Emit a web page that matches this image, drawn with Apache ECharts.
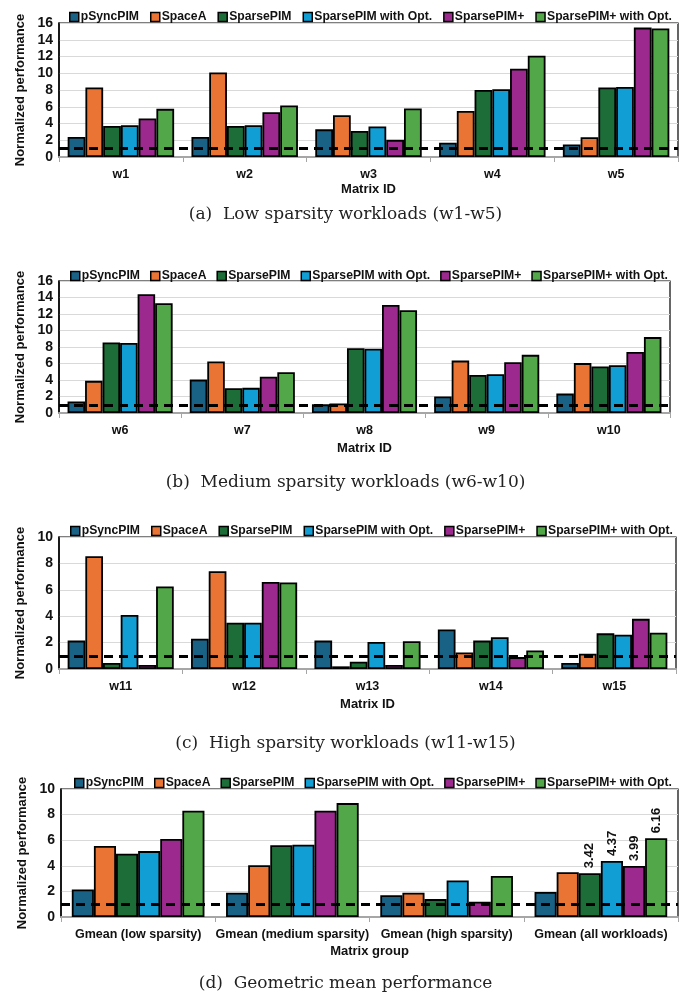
<!DOCTYPE html>
<html><head><meta charset="utf-8">
<script src="https://cdn.jsdelivr.net/npm/echarts@6/dist/echarts.min.js"></script>
<style>html,body{margin:0;padding:0;background:#fff}#c{width:691px;height:994px}</style>
</head><body><div id="c"></div><script>
const seriesNames = ['pSyncPIM','SpaceA','SparsePIM','SparsePIM with Opt.','SparsePIM+','SparsePIM+ with Opt.'];
const seriesColors = ['#1a6285','#ea7433','#1c6d37','#109ed4','#9c2a8e','#52a849'];

const lowCats = ['w1','w2','w3','w4','w5'];
const lowValues = [
  [2.4, 2.4, 3.3, 1.7, 1.5],
  [8.3, 10.1, 5.0, 5.5, 2.35],
  [3.7, 3.7, 3.1, 8.0, 8.3],
  [3.8, 3.8, 3.65, 8.1, 8.35],
  [4.6, 5.35, 2.05, 10.55, 15.45],
  [5.75, 6.15, 5.8, 12.1, 15.35]
];
const medCats = ['w6','w7','w8','w9','w10'];
const medValues = [
  [1.4, 4.05, 1.05, 2.0, 2.35],
  [3.9, 6.25, 1.15, 6.35, 6.05],
  [8.55, 3.0, 7.85, 4.6, 5.65],
  [8.5, 3.05, 7.8, 4.7, 5.8],
  [14.4, 4.4, 13.1, 6.15, 7.4],
  [13.3, 4.95, 12.45, 7.05, 9.2]
];
const highCats = ['w11','w12','w13','w14','w15'];
const highValues = [
  [2.15, 2.3, 2.15, 3.0, 0.45],
  [8.55, 7.4, 0.2, 1.25, 1.15],
  [0.45, 3.5, 0.55, 2.15, 2.7],
  [4.1, 3.5, 2.05, 2.4, 2.6],
  [0.3, 6.6, 0.3, 0.9, 3.8],
  [6.25, 6.55, 2.1, 1.4, 2.75]
];
const gmeanCats = ['Gmean (low sparsity)','Gmean (medium sparsity)','Gmean (high sparsity)','Gmean (all workloads)'];
const gmeanValues = [
  [2.15, 1.9, 1.7, 1.95],
  [5.55, 4.05, 1.9, 3.5],
  [4.95, 5.6, 1.4, 3.42],
  [5.15, 5.65, 2.85, 4.37],
  [6.1, 8.3, 1.2, 3.99],
  [8.3, 8.9, 3.2, 6.16]
];
const gmeanLabeled = [false, false, true, true, true, true]; // labels on "all workloads" group
const baseline = 1;
const yMaxes = [16, 16, 10, 10];
const xNames = ['Matrix ID','Matrix ID','Matrix ID','Matrix group'];
const subtitles = ['(a)  Low sparsity workloads (w1-w5)','(b)  Medium sparsity workloads (w6-w10)','(c)  High sparsity workloads (w11-w15)','(d)  Geometric mean performance'];

const FONT = "'Liberation Sans Narrow','Arial Narrow','Liberation Sans',Arial,sans-serif";
const panels = [
  {cats: lowCats, vals: lowValues, grid:{left:59,right:13,top:23,height:134}, legend:{left:64,top:6,gap:11}, title:201, nameGap:26},
  {cats: medCats, vals: medValues, grid:{left:59,right:21,top:281,height:132}, legend:{left:65,top:265,gap:10}, title:469, nameGap:29},
  {cats: highCats, vals: highValues, grid:{left:59,right:15,top:537,height:132}, legend:{left:65,top:520,gap:11}, title:730, nameGap:29},
  {cats: gmeanCats, vals: gmeanValues, grid:{left:61,right:13,top:789,height:128}, legend:{left:69,top:772,gap:10}, title:970, nameGap:28}
];

const option = {
  animation:false,
  grid: panels.map(p => Object.assign({show:true, borderColor:'#000', borderWidth:1.2, backgroundColor:'transparent'}, p.grid)),
  legend: panels.map(p => ({
    data: seriesNames, left:p.legend.left, top:p.legend.top, width:625, itemWidth:9, itemHeight:9, itemGap:p.legend.gap,
    icon:'rect', selectedMode:false,
    itemStyle:{borderColor:'#000', borderWidth:1.5},
    textStyle:{fontFamily:FONT, fontWeight:'bold', fontSize:12.2, color:'#111', padding:[0,0,0,-3]}
  })),
  title: panels.map((p,i) => ({
    text: subtitles[i], left:'center', top:p.title,
    textStyle:{fontFamily:"'DejaVu Serif',serif", fontWeight:'normal', fontSize:17, color:'#222'}
  })),
  xAxis: panels.map((p,i) => ({
    type:'category', gridIndex:i, data:p.cats,
    name:xNames[i], nameLocation:'middle', nameGap:p.nameGap,
    nameTextStyle:{fontFamily:FONT, fontWeight:'bold', fontSize:13, color:'#111'},
    axisLine:{lineStyle:{color:'#a6a6a6', width:2}},
    axisTick:{show:true, length:5, lineStyle:{color:'#a6a6a6', width:1}},
    axisLabel:{interval:0, fontFamily:FONT, fontWeight:'bold', fontSize:12.5, color:'#111', margin:11}
  })),
  yAxis: panels.map((p,i) => ({
    type:'value', gridIndex:i, min:0, max:yMaxes[i], interval:2,
    name:'Normalized performance', nameLocation:'middle', nameGap:27,
    nameTextStyle:{fontFamily:FONT, fontWeight:'bold', fontSize:13, color:'#111'},
    axisLine:{show:true, lineStyle:{color:'#000', width:1.5}},
    axisTick:{show:false},
    splitLine:{lineStyle:{color:'#d9d9d9', width:1.2}},
    axisLabel:{fontFamily:FONT, fontWeight:'bold', fontSize:14, color:'#111', margin:6}
  })),
  series: []
};

panels.forEach((p, pi) => {
  seriesNames.forEach((name, si) => {
    const data = p.vals[si].map((v, ci) => {
      if (pi === 3 && ci === p.cats.length - 1 && gmeanLabeled[si]) {
        return {value: v, label: {show: true}};
      }
      return v;
    });
    const s = {
      type:'bar', name, xAxisIndex:pi, yAxisIndex:pi, data,
      barGap:'0%', barCategoryGap:'14%',
      itemStyle:{color:seriesColors[si], borderColor:'#000', borderWidth:1.8},
      label:{show:false, position:'top', rotate:90, align:'left', verticalAlign:'middle', distance:5,
             fontFamily:FONT, fontWeight:'bold', fontSize:13, color:'#111', formatter:'{c}'}
    };
    if (si === seriesNames.length - 1) {
      s.markLine = {
        silent:true, symbol:'none', z:10,
        label:{show:false},
        lineStyle:{color:'#000', type:[9,6], width:3},
        data:[{yAxis: baseline}]
      };
    }
    option.series.push(s);
  });
});

const chart = echarts.init(document.getElementById('c'), null, {renderer:'canvas'});
chart.setOption(option);
</script></body></html>
